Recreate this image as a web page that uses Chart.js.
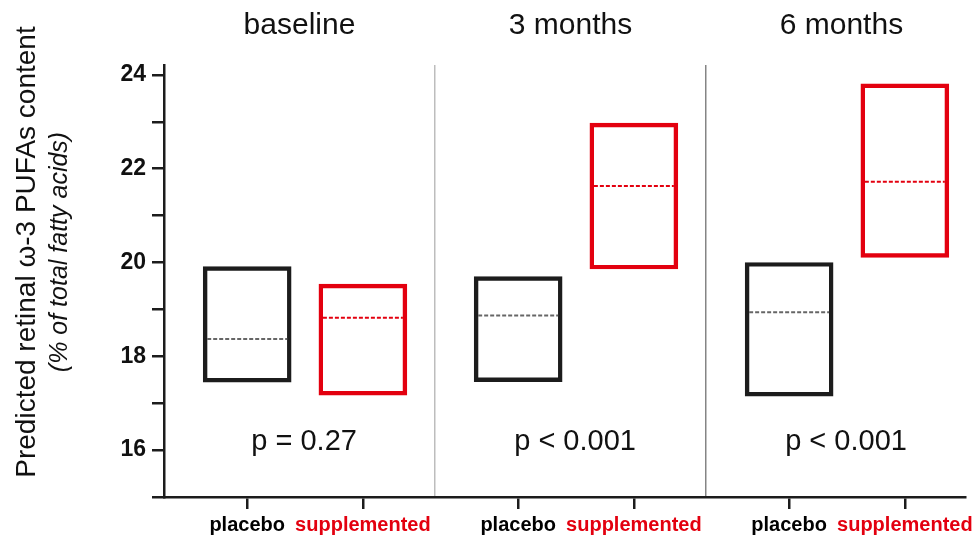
<!DOCTYPE html>
<html>
<head>
<meta charset="utf-8">
<script src="https://cdn.jsdelivr.net/npm/chart.js@4.4.1/dist/chart.umd.min.js"></script>
<style>
  body { margin: 0; background: #fff; }
</style>
</head>
<body>
<canvas id="chart" width="974" height="537"></canvas>
<script>
// values (box = range, dashed line = mean)
const timepoints = ['baseline', '3 months', '6 months']
const groups = ['placebo', 'supplemented']
const placeboLow = [17.45, 17.46, 17.15]
const placeboHigh = [19.91, 19.70, 20.00]
const placeboMean = [18.37, 18.87, 18.94]
const suppLow = [17.17, 19.86, 20.11]
const suppHigh = [19.54, 22.97, 23.81]
const suppMean = [18.82, 21.63, 21.72]
const pValues = ['p = 0.27', 'p < 0.001', 'p < 0.001']
const yLabelled = [16, 18, 20, 22, 24]

// layout of the boxes inside each panel
const groupOffset = [0.307, 0.734]
const black = '#1c1c1c'
const red = '#e3000f'
const fontFamily = '"Liberation Sans", Arial, sans-serif'
Chart.defaults.font.family = fontFamily

function boxes(low, high, g) {
  return low.map((lo, i) => ({ x: i + groupOffset[g], y: [lo, high[i]] }))
}

const means = [placeboMean, suppMean]
const meanColors = ['#666666', red]

const meanLines = {
  id: 'meanLines',
  afterDatasetsDraw(chart) {
    const ctx = chart.ctx
    const y = chart.scales.y
    const x = chart.scales.x
    ctx.save()
    chart.data.datasets.forEach((ds, d) => {
      const meta = chart.getDatasetMeta(d)
      meta.data.forEach((bar, i) => {
        const py = y.getPixelForValue(means[d][i])
        const half = bar.width / 2 - 4
        ctx.beginPath()
        ctx.setLineDash([4, 2])
        ctx.lineWidth = 2
        ctx.strokeStyle = meanColors[d]
        ctx.moveTo(bar.x - half, py)
        ctx.lineTo(bar.x + half, py)
        ctx.stroke()
      })
    })
    // p values under each pair
    ctx.setLineDash([])
    ctx.fillStyle = '#111'
    ctx.font = '29px ' + fontFamily
    ctx.textAlign = 'center'
    ctx.textBaseline = 'alphabetic'
    pValues.forEach((p, i) => {
      ctx.fillText(p, x.getPixelForValue(i + 0.517), y.getPixelForValue(16))
    })
    ctx.restore()
  },
  afterDraw(chart) {
    const ctx = chart.ctx
    ctx.save()
    ctx.fillStyle = '#111'
    ctx.textAlign = 'center'
    ctx.textBaseline = 'alphabetic'
    ctx.translate(35, 252)
    ctx.rotate(-Math.PI / 2)
    ctx.font = '28px ' + fontFamily
    ctx.fillText('Predicted retinal \u03c9-3 PUFAs content', 0, 0)
    ctx.restore()
    ctx.save()
    ctx.fillStyle = '#111'
    ctx.textAlign = 'center'
    ctx.translate(67, 252)
    ctx.rotate(-Math.PI / 2)
    ctx.font = 'italic 25px ' + fontFamily
    ctx.fillText('(% of total fatty acids)', 0, 0)
    ctx.restore()
  }
}

const chart = new Chart(document.querySelector('#chart'), {
  type: 'bar',
  data: {
    datasets: [
      {
        label: groups[0],
        data: boxes(placeboLow, placeboHigh, 0),
        backgroundColor: 'rgba(0,0,0,0)',
        borderColor: black,
        borderWidth: 3.8,
        borderSkipped: false
      },
      {
        label: groups[1],
        data: boxes(suppLow, suppHigh, 1),
        backgroundColor: 'rgba(0,0,0,0)',
        borderColor: red,
        borderWidth: 3.8,
        borderSkipped: false
      }
    ]
  },
  options: {
    responsive: false,
    animation: false,
    grouped: false,
    barThickness: 88,
    layout: { padding: { top: 0, right: 9, bottom: 0, left: 0 } },
    plugins: { legend: { display: false }, tooltip: { enabled: false } },
    scales: {
      x: {
        type: 'linear',
        position: 'bottom',
        offset: false,
        min: 0,
        max: 2.956,
        afterBuildTicks: s => {
          s.ticks = []
          timepoints.forEach((t, i) => groupOffset.forEach(o => s.ticks.push({ value: i + o })))
        },
        afterFit: s => { s.height = 40; s.paddingLeft = 0; s.paddingRight = 0 },
        grid: { offset: false, drawOnChartArea: false, tickLength: 12, color: black, lineWidth: 2.5 },
        border: { color: black, width: 2.5 },
        ticks: {
          autoSkip: false,
          maxRotation: 0,
          minRotation: 0,
          padding: 4,
          font: { size: 20, weight: 'bold' },
          color: c => (c.index % 2 ? red : '#000'),
          callback: (v, i) => groups[i % 2]
        }
      },
      top: {
        type: 'linear',
        axis: 'x',
        position: 'top',
        offset: false,
        min: 0,
        max: 2.956,
        afterBuildTicks: s => {
          s.ticks = [0.5, 1, 1.5, 2, 2.5].map(v => ({ value: v }))
        },
        afterFit: s => { s.height = 65; s.paddingLeft = 0; s.paddingRight = 0 },
        border: { display: false },
        grid: {
          offset: false,
          drawTicks: false,
          lineWidth: 1.5,
          color: c => (c.index === 1 ? '#bdbdbd' : c.index === 3 ? '#858585' : 'rgba(0,0,0,0)')
        },
        ticks: {
          autoSkip: false,
          maxRotation: 0,
          padding: 21,
          font: { size: 30 },
          color: '#111',
          callback: (v, i) => (i % 2 ? '' : timepoints[i / 2])
        }
      },
      y: {
        min: 15,
        max: 24.21,
        afterFit: s => { s.width = 164 },
        grid: { drawOnChartArea: false, tickLength: 12, color: black, lineWidth: 2.5 },
        border: { color: black, width: 2.5 },
        ticks: {
          stepSize: 1,
          includeBounds: false,
          padding: 6,
          font: { size: 23, weight: 'bold' },
          color: '#111',
          callback: v => (yLabelled.includes(v) ? v : '')
        }
      }
    }
  },
  plugins: [meanLines]
})
</script>
</body>
</html>
